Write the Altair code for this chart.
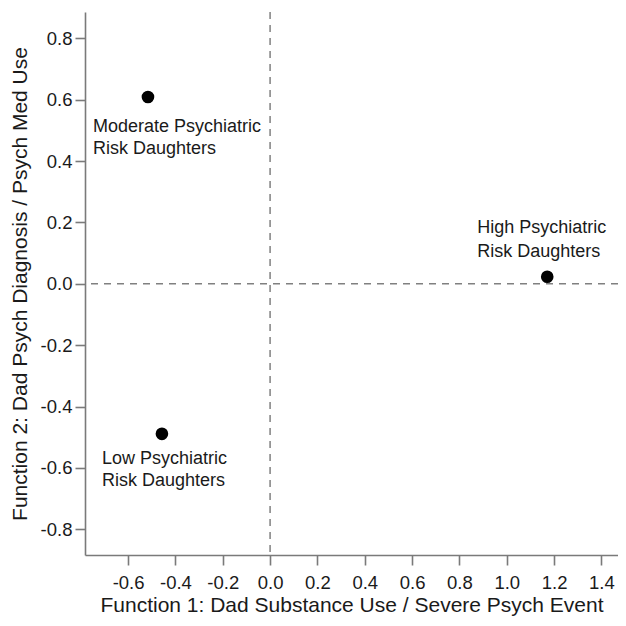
import altair as alt
import pandas as pd

# Data
groups = ["Moderate Psychiatric Risk Daughters", "High Psychiatric Risk Daughters", "Low Psychiatric Risk Daughters"]
keys = ["moderate", "high", "low"]
func1 = [-0.516, 1.171, -0.457]
func2 = [0.609, 0.023, -0.489]
label_line1 = ["Moderate Psychiatric", "High Psychiatric", "Low Psychiatric"]
label_line2 = ["Risk Daughters", "Risk Daughters", "Risk Daughters"]
x_ticks = [-0.6, -0.4, -0.2, 0.0, 0.2, 0.4, 0.6, 0.8, 1.0, 1.2, 1.4]
y_ticks = [-0.8, -0.6, -0.4, -0.2, 0.0, 0.2, 0.4, 0.6, 0.8]
x_ref = [0.0]
y_ref = [0.0]

df = pd.DataFrame({"key": keys, "group": groups, "f1": func1, "f2": func2,
                   "l1": label_line1, "l2": label_line2})

FONT = "Liberation Sans"
xscale = alt.Scale(domain=[-0.782, 1.47], nice=False, zero=False)
yscale = alt.Scale(domain=[-0.884, 0.886], nice=False, zero=False)

HYPHEN = "replace(datum.label, '\u2212', '-')"

X = alt.X("f1:Q", scale=xscale,
          axis=alt.Axis(values=x_ticks, format=".1f", labelExpr=HYPHEN,
                        title="Function 1: Dad Substance Use / Severe Psych Event"))
Y = alt.Y("f2:Q", scale=yscale,
          axis=alt.Axis(values=y_ticks, format=".1f", labelExpr=HYPHEN,
                        title="Function 2: Dad Psych Diagnosis / Psych Med Use"))

base = alt.Chart(df)

vrule = alt.Chart(pd.DataFrame({"v": x_ref})).mark_rule(
    color="#808080", strokeDash=[7, 6], strokeWidth=1.5
).encode(x=alt.X("v:Q", scale=xscale))
hrule = alt.Chart(pd.DataFrame({"v": y_ref})).mark_rule(
    color="#808080", strokeDash=[7, 6], strokeWidth=1.5
).encode(y=alt.Y("v:Q", scale=yscale))

points = base.mark_point(filled=True, shape="circle", size=160, color="black", opacity=1).encode(x=X, y=Y)

offsets = {"moderate": (-55, 30, 52), "high": (-70, -49, -25), "low": (-60, 25, 47)}
texts = []
for k, (dx, dy1, dy2) in offsets.items():
    for field, dy in (("l1", dy1), ("l2", dy2)):
        texts.append(
            base.transform_filter(alt.datum.key == k).mark_text(
                align="left", baseline="middle", dx=dx, dy=dy,
                font=FONT, fontSize=18, color="#1a1a1a"
            ).encode(x=alt.X("f1:Q", scale=xscale), y=alt.Y("f2:Q", scale=yscale), text=f"{field}:N")
        )

chart = alt.layer(vrule, hrule, points, *texts).properties(
    width=533, height=543,
    autosize=alt.AutoSizeParams(type="none"),
    padding={"left": 77, "top": 4, "right": 0, "bottom": 63},
).configure_view(stroke=None).configure_axis(
    grid=False, domainColor="#7a7a7a", domainWidth=1.6, tickColor="#7a7a7a", tickWidth=1.6,
    tickSize=10, labelFont=FONT, labelFontSize=18.5, labelColor="#1a1a1a",
    titleFont=FONT, titleFontSize=21, titleFontWeight="normal", titleColor="#1a1a1a",
).configure_axisX(labelPadding=8, titlePadding=3).configure_axisY(labelPadding=3, titlePadding=10)

chart.save("out.html", embed_options={"renderer": "svg", "actions": False})
